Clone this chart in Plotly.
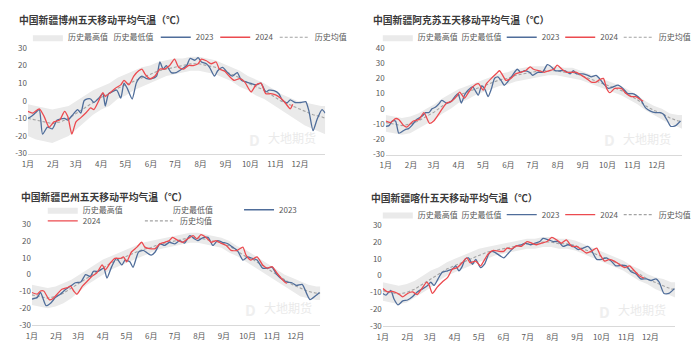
import plotly.graph_objects as go

# ---------------- data ----------------
month_days = [1, 32, 60, 91, 121, 152, 182, 213, 244, 274, 305, 335]
month_labels = ["1月", "2月", "3月", "4月", "5月", "6月", "7月", "8月", "9月", "10月", "11月", "12月"]
ytick_vals_a = [-30, -20, -10, 0, 10, 20, 30]
ytick_text_a = ["-30", "-20", "-10", "0", "10", "20", "30"]
ytick_vals_b = [-30, -20, -10, 0, 10, 20, 30, 40]
ytick_text_b = ["-30", "-20", "-10", "0", "10", "20", "30", "40"]

band_days = [1, 11, 21, 31, 41, 51, 61, 71, 81, 91, 101, 111, 121, 131, 141, 151, 161, 171, 181,
             191, 201, 211, 221, 231, 241, 251, 261, 271, 281, 291, 301, 311, 321, 331, 341, 351, 361, 366]

# --- 博州 ---
bz_max = [-2, -3, -4, -5, -4, -3, 0, 3, 6, 8, 10, 13, 15, 17, 19, 20, 22, 23, 24, 24, 25, 25, 24, 23, 21, 19, 17, 14, 12, 10, 7, 4, 2, 0, -1, -2, -3, -3]
bz_min = [-20, -22, -23, -24, -22, -20, -16, -12, -8, -5, -3, 1, 3, 6, 8, 10, 12, 14, 15, 16, 17, 17, 16, 15, 13, 11, 8, 6, 3, 1, -2, -5, -8, -11, -14, -16, -18, -19]
bz_avg = [-10, -11, -12, -13, -12, -10, -7, -4, -1, 2, 4, 7, 9, 11, 13, 15, 17, 18, 19, 20, 21, 21, 20, 19, 17, 15, 13, 10, 8, 6, 3, 0, -2, -4, -6, -8, -9, -10]
bz_2023_days = [1, 5, 10, 15, 19, 25, 31, 37, 46, 50, 56, 62, 66, 70, 74, 78, 82, 88, 93, 96, 100, 104, 110, 115, 119, 123, 129, 134, 137, 141, 147, 153, 159, 163, 167, 171, 177, 183, 190, 196, 200, 206, 210, 214, 220, 224, 230, 234, 240, 246, 252, 258, 263, 269, 275, 281, 287, 293, 297, 303, 309, 313, 319, 323, 329, 336, 342, 346, 351, 356, 362, 366]
bz_2023 = [-10, -9, -7, -5, -19, -15, -16, -11, -10, -11, -8, -5, -7, 0, 1, 1, -1, 1.5, 4, -3, 4, 5, 6, 1.5, 10, 7, 1, 10, 12.5, 14, 12.5, 12.5, 14, 22, 18, 20, 16, 16, 18, 20, 24, 23, 24.5, 22, 21, 19, 14, 17, 19, 16, 14, 16, 11.6, 10.7, 9.8, 9, 10, 5, 6, 5.7, 4, 0.5, -1.3, 0.5, -1, -1, -0.5, -6, -17, -10.5, -5, -7]
bz_2024_days = [1, 7, 15, 21, 27, 33, 40, 46, 50, 55, 60, 66, 72, 78, 82, 88, 93, 96, 102, 108, 115, 119, 125, 131, 137, 141, 145, 151, 157, 163, 169, 175, 181, 186, 192, 198, 204, 210, 214, 220, 226, 232, 236, 242, 248, 254, 261, 267, 275, 281, 287, 293, 299, 305, 311, 317, 323, 326]
bz_2024 = [-6, -7, -4.6, -9, -15, -12, -11, -6, -9, -19, -12, -9.6, -7, -4, -5, 0, 4.6, 2.4, 4.6, 7, 9, 11.6, 9, 14, 17, 18, 15, 12.5, 14, 18, 18, 20, 23.6, 19, 18, 20, 20, 21, 23.6, 22.7, 21, 22, 18, 17, 14, 11.6, 12.5, 10.7, 5, 9, 10, 4, 4, 3.3, 1.5, -1.3, -4.6, -2]

# --- 阿克苏 ---
aks_max = [-4, -5, -6, -5, -3, 0, 3, 7, 10, 13, 15, 17, 19, 21, 23, 24, 26, 27, 28, 28, 28, 28, 27, 27, 25, 23, 21, 19, 17, 15, 12, 9, 5, 2, 0, -3, -4, -4]
aks_min = [-15, -16, -17, -16, -13, -10, -7, -3, 0, 4, 6, 9, 11, 13, 15, 16, 18, 19, 20, 21, 22, 22, 21, 20, 19, 17, 15, 13, 11, 9, 6, 3, -1, -4, -7, -10, -12, -13]
aks_avg = [-9, -10, -11, -10, -8, -5, -2, 2, 5, 9, 11, 13, 15, 17, 19, 20, 22, 23, 24, 25, 25, 25, 24, 24, 22, 20, 18, 16, 14, 12, 9, 6, 2, -1, -3, -6, -8, -8]
aks_2023_days = [1, 5, 9, 13, 17, 21, 25, 29, 33, 39, 46, 50, 54, 58, 62, 66, 70, 76, 82, 86, 90, 94, 98, 102, 108, 115, 119, 123, 127, 131, 135, 139, 143, 147, 151, 157, 163, 167, 172, 178, 182, 188, 194, 200, 204, 210, 216, 222, 228, 232, 236, 244, 250, 254, 260, 264, 269, 275, 281, 287, 293, 299, 305, 309, 315, 321, 327, 333, 339, 343, 348, 352, 358, 364]
aks_2023 = [-11.5, -11, -8, -8, -16, -15, -13.6, -13, -11, -7, -4.7, -2.5, -2.5, 0, 1, 3, 5.5, 3.8, 5, 8, 10, 3.8, 9, 12, 14.4, 9, 15, 13, 8, 13, 20, 21, 18.7, 15.5, 17.6, 22, 26, 24, 25, 24, 22, 24, 24, 29, 28, 25, 25, 25, 23, 25, 23, 23, 22, 21, 22, 20, 16.5, 13.4, 14.4, 15.5, 13.4, 10, 10, 9, 6, 0.6, -1.5, -2.5, -2.5, -3.6, -8, -11.5, -11, -8]
aks_2024_days = [1, 7, 13, 17, 23, 27, 31, 35, 42, 48, 55, 60, 66, 70, 76, 82, 88, 92, 98, 102, 108, 115, 121, 125, 131, 137, 141, 145, 149, 155, 161, 167, 173, 179, 183, 190, 196, 202, 208, 212, 218, 224, 230, 236, 242, 248, 254, 260, 264, 269, 273, 277, 283, 291, 297, 303, 309, 315, 318]
aks_2024 = [-8, -9, -6.4, -7, -11, -12, -10, -8, -7, -2.5, -9.6, -8, -3.6, -0.4, 3.8, 5, 8, 11, 7, 10, 14.4, 16.5, 12.3, 16.5, 20, 23, 25, 22, 18.7, 20, 23, 24, 25, 27.6, 26, 25, 24, 25, 26, 28.7, 26, 24, 24, 24, 22, 20, 17.6, 17.6, 19, 20, 13.4, 10.6, 13.4, 13.4, 10, 8, 8, 6, 5]

# --- 巴州 ---
bzh_max = [-6, -7, -8, -7, -5, -3, 0, 3, 6, 9, 11, 13, 15, 17, 19, 20, 21, 22, 23, 24, 25, 25, 24, 23, 22, 20, 17, 15, 12, 9, 6, 3, 0, -2, -4, -6, -7, -7]
bzh_min = [-18, -19, -20, -19, -17, -14, -10, -6, -3, 0, 3, 5, 7, 9, 11, 13, 15, 16, 17, 18, 19, 19, 18, 17, 16, 13, 11, 8, 5, 2, -1, -4, -7, -10, -13, -14, -15, -15]
bzh_avg = [-12, -13, -14, -13, -11, -8, -5, -2, 1, 4, 7, 9, 11, 13, 15, 16, 18, 19, 20, 21, 22, 22, 21, 20, 19, 17, 14, 11, 9, 6, 3, 0, -3, -6, -8, -10, -11, -11]
bzh_2023_days = [1, 8, 12, 19, 25, 31, 37, 44, 50, 56, 63, 69, 75, 79, 85, 92, 96, 102, 108, 115, 119, 125, 129, 136, 142, 148, 152, 157, 163, 169, 175, 182, 188, 194, 201, 207, 211, 217, 224, 230, 236, 242, 249, 255, 261, 268, 274, 280, 286, 293, 299, 305, 311, 318, 324, 330, 336, 343, 349, 353, 360, 365]
bzh_2023 = [-14.5, -13.5, -10.6, -18.4, -16.8, -13.5, -11.6, -8.7, -6.8, -4.8, -4.4, 0, -1, 2, 2, 3.9, -2, 4.8, 9.7, 5.8, 8.7, 7.7, 4.4, 13.5, 14.5, 12.6, 11.6, 13.5, 18.4, 17.4, 19.3, 18.4, 20.3, 18.8, 23.2, 21.3, 20.3, 21.9, 22.2, 17.4, 20.3, 19.3, 18.4, 16.4, 14.5, 8.7, 10.6, 9.7, 8.7, 3.9, 3.9, 4.4, 0, -2.9, -4.4, -4.8, -6.4, -5.8, -11.6, -14.9, -12.6, -10.6]
bzh_2024_days = [1, 8, 12, 16, 23, 27, 33, 39, 46, 50, 54, 58, 65, 71, 77, 83, 90, 94, 100, 106, 113, 117, 121, 127, 134, 140, 144, 150, 157, 163, 169, 175, 179, 186, 192, 198, 205, 210, 215, 222, 228, 234, 240, 247, 253, 261, 268, 272, 278, 286, 293, 299, 305, 311, 318, 322, 324]
bzh_2024 = [-10.6, -11.6, -9.7, -9.7, -14.9, -14.5, -11.6, -8.7, -7.7, -6.8, -9.7, -11.6, -6.8, -3.9, -1, 1, 5.8, 2.9, 6.8, 9.7, 9.7, 10.6, 7.7, 13.5, 16.4, 19.3, 16.4, 15.5, 15.5, 18.4, 19.3, 20.3, 22.2, 20.3, 19.3, 21.3, 23.2, 21.3, 23.8, 21.9, 19.3, 20.3, 18.8, 17.4, 14.5, 14.5, 16.4, 11.6, 8.7, 10.6, 5.8, 3.9, 4.8, 1, -2.9, -4.8, -5]

# --- 喀什 ---
ks_max = [-4, -5, -6, -5, -3, 0, 3, 5, 8, 10, 12, 14, 16, 17, 18, 19, 20, 21, 22, 22, 23, 23, 22, 22, 21, 19, 17, 15, 13, 11, 9, 6, 4, 1, -1, -2, -4, -4]
ks_min = [-15, -16, -17, -16, -13, -10, -7, -3, 0, 2, 4, 6, 8, 10, 12, 13, 14, 15, 16, 16, 17, 17, 16, 16, 15, 13, 11, 9, 7, 5, 3, 0, -3, -5, -8, -10, -12, -13]
ks_avg = [-9, -10, -11, -10, -8, -5, -2, 1, 4, 6, 8, 10, 12, 14, 15, 16, 17, 18, 19, 19, 20, 20, 19, 19, 18, 16, 14, 12, 10, 8, 6, 3, 1, -2, -4, -6, -8, -8]
ks_2023_days = [1, 5, 11, 15, 20, 26, 32, 38, 44, 51, 57, 61, 65, 70, 75, 82, 88, 92, 96, 100, 104, 108, 113, 117, 123, 128, 133, 137, 141, 148, 152, 158, 162, 168, 174, 179, 185, 191, 197, 201, 208, 214, 220, 226, 232, 239, 245, 251, 257, 261, 268, 274, 280, 286, 292, 299, 305, 311, 317, 323, 330, 336, 342, 346, 352, 358, 365]
ks_2023 = [-10.6, -11.6, -8.7, -13.9, -17.4, -15, -14.5, -12.6, -9.7, -7.7, -5.8, -3.9, -5.8, -1.9, 1.9, 2.9, 3.9, 5.8, 2.9, 5.4, 10, 10.6, 6.8, 9.7, 4.8, 6.8, 12.6, 14.5, 13.9, 11.6, 10.6, 13.5, 15.5, 17.8, 18.4, 19.3, 18.4, 19.3, 20.3, 22.2, 21.3, 20.3, 20.3, 17.4, 18.4, 17.4, 15.5, 16.4, 17.4, 15.5, 9.7, 9.7, 10.6, 8.7, 5.8, 6.2, 5.8, 2.3, 1, -1.9, -1.9, -2.9, -1.9, -3.9, -10.6, -10.6, -7.7]
ks_2024_days = [1, 7, 13, 20, 26, 32, 38, 44, 51, 56, 59, 63, 69, 75, 82, 88, 94, 100, 106, 110, 117, 123, 127, 133, 139, 146, 152, 156, 162, 168, 174, 181, 187, 193, 199, 206, 212, 218, 224, 230, 237, 243, 249, 255, 261, 268, 272, 278, 284, 290, 296, 303, 309, 315, 321, 327]
ks_2024 = [-7.7, -9.7, -9.3, -10.6, -12.6, -10.6, -9.7, -11.2, -6.8, -3.9, -5.8, -10.6, -6.8, -3.9, -1, 3.9, 4.8, 7.7, 10.6, 7.7, 8.7, 5.8, 8.7, 13.2, 15.1, 14.5, 14.5, 16.4, 15.9, 17.8, 17.4, 20.3, 19.3, 18.4, 19.3, 20.3, 22.8, 21.3, 19.3, 21.3, 17.4, 17.4, 15.5, 13.5, 14.5, 16.4, 12.6, 8.7, 9.7, 8.7, 6.8, 4.8, 5.8, 2.9, 0, -1.5]

series_names = ["历史最高值", "历史最低值", "2023", "2024", "历史均值"]
titles = ["中国新疆博州五天移动平均气温（℃）", "中国新疆阿克苏五天移动平均气温（℃）",
          "中国新疆巴州五天移动平均气温（℃）", "中国新疆喀什五天移动平均气温（℃）"]

# ---------------- layout / style ----------------
# the page body has an 8px margin, so the figure is drawn 8px smaller
OFF = 8
W, H = 700 - OFF, 364 - OFF
FONT = "Noto Sans CJK SC"
C_BAND = "#EAEAEA"
C_2023 = "#4F6D9A"
C_2024 = "#EC4A4F"
C_AVG = "#A3A3A3"
C_TXT = "#595959"


def fx(p):
    return (p - OFF) / W


def fy(p):
    return 1 - (p - OFF) / H


panels = [
    dict(data=(bz_max, bz_min, bz_avg, bz_2023_days, bz_2023, bz_2024_days, bz_2024),
         xpx=(22, 322), ypx=(43, 152), yr=[-30, 30], yt=(ytick_vals_a, ytick_text_a), title=(11, 14),
         leg=[(22, 32), (68, 32), (151, 32), (211, 32), (271, 32)], wm=(262, 135)),
    dict(data=(aks_max, aks_min, aks_avg, aks_2023_days, aks_2023, aks_2024_days, aks_2024),
         xpx=(383, 682), ypx=(43, 153), yr=[-30, 40], yt=(ytick_vals_b, ytick_text_b), title=(368, 14),
         leg=[(375, 32), (419, 32), (500, 32), (559, 32), (618, 32)], wm=(620, 136)),
    dict(data=(bzh_max, bzh_min, bzh_avg, bzh_2023_days, bzh_2023, bzh_2024_days, bzh_2024),
         xpx=(26, 317), ypx=(225, 329), yr=[-30, 30], yt=(ytick_vals_a, ytick_text_a), title=(13, 197),
         leg=[(37, 210), (128, 210), (235, 210), (37, 221.5), (135, 221.5)], wm=(258, 311)),
    dict(data=(ks_max, ks_min, ks_avg, ks_2023_days, ks_2023, ks_2024_days, ks_2024),
         xpx=(380, 675), ypx=(226, 330), yr=[-30, 30], yt=(ytick_vals_a, ytick_text_a), title=(366, 198),
         leg=[(375, 215), (419, 215), (500, 215), (559, 215), (618, 215)], wm=(615, 313)),
]

fig = go.Figure()
layout = dict(width=W, height=H, margin=dict(l=0, r=0, t=0, b=0),
              paper_bgcolor="white", plot_bgcolor="white",
              font=dict(family=FONT, size=8, color=C_TXT), annotations=[])

leg_counter = 1
for i, p in enumerate(panels):
    n = i + 1
    xa = "x" if n == 1 else f"x{n}"
    ya = "y" if n == 1 else f"y{n}"
    mx, mn, av, d23, v23, d24, v24 = p["data"]
    leg_names = []
    for k in range(5):
        leg_counter += 1
        ln = f"legend{leg_counter}"
        leg_names.append(ln)
        lx, ly = p["leg"][k]
        layout[ln] = dict(x=fx(lx), y=fy(ly), xanchor="left", yanchor="middle",
                          orientation="h", bgcolor="rgba(0,0,0,0)",
                          font=dict(family=FONT, size=8, color=C_TXT))
    # band: min then max filled to it
    fig.add_trace(go.Scatter(x=band_days, y=mn, xaxis=xa, yaxis=ya, mode="lines",
                             line=dict(width=0, color="rgba(255,255,255,0)"),
                             name=series_names[1], legend=leg_names[1], hoverinfo="skip"))
    fig.add_trace(go.Scatter(x=band_days, y=mx, xaxis=xa, yaxis=ya, mode="lines",
                             line=dict(width=0, color=C_BAND), fill="tonexty", fillcolor=C_BAND,
                             name=series_names[0], legend=leg_names[0], hoverinfo="skip"))
    fig.add_trace(go.Scatter(x=band_days, y=av, xaxis=xa, yaxis=ya, mode="lines",
                             line=dict(width=1.1, color=C_AVG, dash="3px,2px"),
                             name=series_names[4], legend=leg_names[4]))
    fig.add_trace(go.Scatter(x=d23, y=v23, xaxis=xa, yaxis=ya, mode="lines",
                             line=dict(width=1.3, color=C_2023, shape="spline", smoothing=0.6),
                             name=series_names[2], legend=leg_names[2]))
    fig.add_trace(go.Scatter(x=d24, y=v24, xaxis=xa, yaxis=ya, mode="lines",
                             line=dict(width=1.3, color=C_2024, shape="spline", smoothing=0.6),
                             name=series_names[3], legend=leg_names[3]))

    xk = "xaxis" if n == 1 else f"xaxis{n}"
    yk = "yaxis" if n == 1 else f"yaxis{n}"
    layout[xk] = dict(domain=[fx(p["xpx"][0]), fx(p["xpx"][1])], anchor=ya, range=[1, 366],
                      tickvals=month_days, ticktext=month_labels, showgrid=False, zeroline=False,
                      showline=True, linecolor="#D9D9D9", linewidth=1,
                      ticks="outside", ticklen=3, tickcolor="rgba(0,0,0,0)",
                      tickfont=dict(family=FONT, size=8, color=C_TXT))
    layout[yk] = dict(domain=[fy(p["ypx"][1]), fy(p["ypx"][0])], anchor=xa, range=p["yr"],
                      tickvals=p["yt"][0], ticktext=p["yt"][1], showgrid=False, zeroline=False,
                      showline=False, ticks="", tickfont=dict(family=FONT, size=8, color=C_TXT))
    tx, ty = p["title"]
    layout["annotations"].append(dict(text=titles[i], x=fx(tx), y=fy(ty), xref="paper", yref="paper",
                                      xanchor="left", yanchor="middle", showarrow=False,
                                      font=dict(family=FONT, size=9.8, color="#3A3A3A", weight="bold")))
    wx, wy = p["wm"]
    layout["annotations"].append(dict(text="大地期货", x=fx(wx), y=fy(wy), xref="paper", yref="paper",
                                      xanchor="left", yanchor="middle", showarrow=False,
                                      font=dict(family=FONT, size=12, color="#EAEAEA")))
    layout["annotations"].append(dict(text="D", x=fx(wx - 4), y=fy(wy + 2), xref="paper", yref="paper",
                                      xanchor="right", yanchor="middle", showarrow=False,
                                      font=dict(family=FONT, size=15, color="#EFEFEF", weight="bold")))

fig.update_layout(**layout)
fig.write_html("out.html")
